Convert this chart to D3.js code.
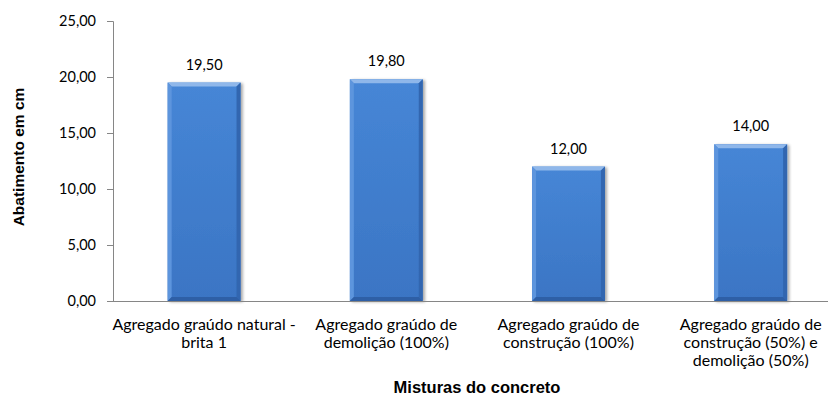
<!DOCTYPE html>
<html>
<head>
<meta charset="utf-8">
<script src="https://cdn.jsdelivr.net/npm/d3@7"></script>
<style>
  html, body { margin: 0; padding: 0; background: #fff; }
  svg { display: block; }
</style>
</head>
<body>
<svg id="chart" width="828" height="396"></svg>
<script>
// Slump test results per concrete mix
const categories = [
  ["Agregado graúdo natural -", "brita 1"],
  ["Agregado graúdo de", "demolição (100%)"],
  ["Agregado graúdo de", "construção (100%)"],
  ["Agregado graúdo de", "construção (50%) e", "demolição (50%)"]
];
const values = [19.5, 19.8, 12.0, 14.0];
const yTicks = [0, 5, 10, 15, 20, 25];
const yTitle = "Abatimento em cm";
const xTitle = "Misturas do concreto";

const svg = d3.select("#chart");
const fmt = v => d3.format(".2f")(v).replace(".", ",");

const x0 = 113, y0 = 301, yTop = 21, step = 182.2;
const x = d3.scaleBand()
  .domain(d3.range(values.length))
  .range([x0, x0 + step * values.length])
  .paddingInner(0.6)
  .paddingOuter(0.3);
const y = d3.scaleLinear().domain([0, 25]).range([y0, yTop]);

const labelFont = "Lato, 'Open Sans', sans-serif";
const titleFont = "'Liberation Sans', Arial, sans-serif";

// y axis
const yAxis = svg.append("g")
  .attr("transform", `translate(${x0},0)`)
  .call(d3.axisLeft(y).tickValues(yTicks).tickFormat(fmt).tickSize(6).tickPadding(11));
yAxis.select(".domain").attr("stroke", "#868686").attr("d", `M-6,${yTop}.5H0.5V${y0}.5`);
yAxis.selectAll(".tick line").attr("stroke", "#868686");
yAxis.selectAll(".tick text")
  .attr("font-family", labelFont).attr("font-size", 14.5).attr("fill", "#000");

// bar fill gradient and soft drop shadow
const defs = svg.append("defs");
const g = defs.append("linearGradient").attr("id", "face").attr("x1", 0).attr("y1", 0).attr("x2", 0).attr("y2", 1);
g.append("stop").attr("offset", 0).attr("stop-color", "#4686d6");
g.append("stop").attr("offset", 1).attr("stop-color", "#3b75c4");
const sh = defs.append("filter").attr("id", "shadow").attr("x", "-20%").attr("y", "-5%").attr("width", "140%").attr("height", "115%");
sh.append("feGaussianBlur").attr("in", "SourceAlpha").attr("stdDeviation", 1.5);
sh.append("feOffset").attr("dx", 1.5).attr("dy", 1).attr("result", "b");
sh.append("feComponentTransfer").append("feFuncA").attr("type", "linear").attr("slope", 0.35);
const m = sh.append("feMerge");
m.append("feMergeNode");
m.append("feMergeNode").attr("in", "SourceGraphic");

const bw = x.bandwidth();
const bev = 4;
const bars = svg.append("g").selectAll("g").data(values).join("g")
  .attr("filter", "url(#shadow)");

// each bar: flat face plus four bevel strips
bars.each(function(v, i) {
  const gx = d3.select(this);
  const L = x(i), R = x(i) + bw, T = y(v), B = y(0);
  gx.append("rect").attr("x", L).attr("y", T).attr("width", bw).attr("height", B - T).attr("fill", "url(#face)");
  const poly = (pts, c) => gx.append("polygon")
    .attr("points", pts.map(p => p.join(",")).join(" ")).attr("fill", c);
  poly([[L, T], [R, T], [R - bev, T + bev], [L + bev, T + bev]], "#8fb7ea");
  poly([[L, T], [L + bev, T + bev], [L + bev, B - bev], [L, B]], "#5d95dd");
  poly([[R, T], [R, B], [R - bev, B - bev], [R - bev, T + bev]], "#3166b0");
  poly([[L, B], [L + bev, B - bev], [R - bev, B - bev], [R, B]], "#2d5fa6");
});

// x axis line
svg.append("line")
  .attr("x1", x0).attr("x2", 828).attr("y1", y0 + 0.5).attr("y2", y0 + 0.5)
  .attr("stroke", "#868686");

// value labels
svg.append("g").selectAll("text").data(values).join("text")
  .attr("x", (d, i) => x(i) + bw / 2)
  .attr("y", d => y(d) - 13)
  .attr("text-anchor", "middle")
  .attr("font-family", labelFont).attr("font-size", 14.5)
  .text(fmt);

// category labels
svg.append("g").selectAll("text").data(categories).join("text")
  .attr("x", (d, i) => x(i) + bw / 2)
  .attr("y", 330)
  .attr("text-anchor", "middle")
  .attr("font-family", labelFont).attr("font-size", 16)
  .each(function(lines) {
    const t = d3.select(this);
    lines.forEach((ln, k) => t.append("tspan")
      .attr("x", t.attr("x")).attr("dy", k === 0 ? 0 : 18).text(ln));
  });

// axis titles
svg.append("text")
  .attr("x", 477).attr("y", 393)
  .attr("text-anchor", "middle")
  .attr("font-family", titleFont)
  .attr("font-weight", "bold").attr("font-size", 16.5)
  .text(xTitle);
svg.append("text")
  .attr("transform", "translate(24,157) rotate(-90)")
  .attr("text-anchor", "middle")
  .attr("font-family", titleFont)
  .attr("font-weight", "bold").attr("font-size", 15.5)
  .text(yTitle);
</script>
</body>
</html>
